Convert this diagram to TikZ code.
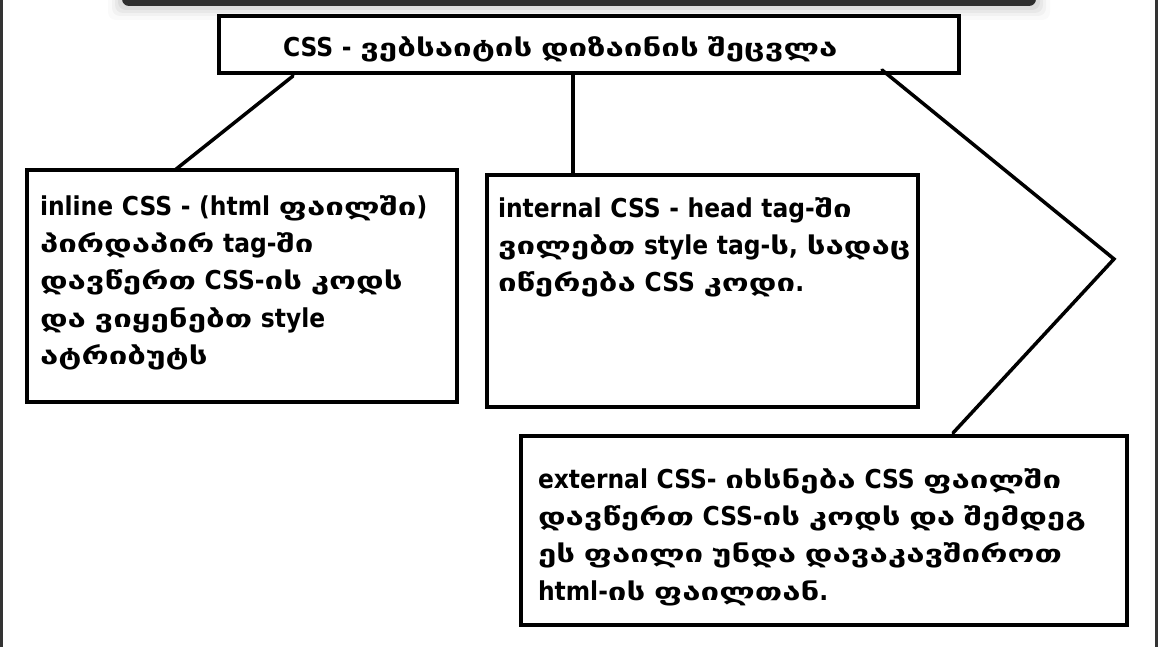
\documentclass[tikz,border=0pt]{standalone}
\usepackage{fontspec}
\newfontfamily\latfont{DejaVu Sans Bold}[FakeStretch=0.9]
\newfontfamily\geofont{DejaVu Sans Bold}[Scale=0.923, FakeStretch=1.38]
\XeTeXinterchartokenstate=1
\newXeTeXintercharclass\geoclass
\count255="10A0
\loop
  \XeTeXcharclass\count255=\geoclass
  \ifnum\count255<"10FF \advance\count255 by 1 \repeat
\XeTeXinterchartoks 0 \geoclass = {\geofont}
\XeTeXinterchartoks 4095 \geoclass = {\geofont}
\XeTeXinterchartoks \geoclass 0 = {\latfont}
\XeTeXinterchartoks 4095 0 = {\latfont}
\definecolor{bar}{HTML}{2D2D2D}
\definecolor{edge}{HTML}{333333}
\tikzset{
  box/.style={draw=black, line width=4pt, fill=white, rectangle, inner sep=0pt, outer sep=0pt},
  link/.style={draw=black, line width=3.5pt, line cap=round, line join=miter},
  txt/.style={anchor=base west, inner sep=0pt, outer sep=0pt, align=left, text width=640pt,
    font=\latfont\fontsize{26}{37.4}\selectfont},
}
\begin{document}
\begin{tikzpicture}[x=1pt,y=-1pt]
\useasboundingbox (0,0) rectangle (1158,647);
\fill[white] (0,0) rectangle (1158,647);
% shadow and top bar
\foreach \s/\o in {14/0.02,10/0.03,7/0.04,4/0.05}{
  \fill[black,opacity=\o,rounded corners=8pt] (122-\s,-20) rectangle (1036+\s,6+\s);
}
\fill[bar,rounded corners=7pt] (122,-20) rectangle (1036,6);
\fill[edge] (0,0) rectangle (2.5,647);
\fill[edge] (1155,0) rectangle (1158,647);
% boxes
\node[box, minimum width=740pt, minimum height=57pt] (t) at (589,44.5) {};
\node[box, minimum width=430pt, minimum height=232pt] (a) at (242,286) {};
\node[box, minimum width=431pt, minimum height=232pt] (b) at (702.5,291) {};
\node[box, minimum width=606pt, minimum height=189pt] (c) at (824,530.5) {};
% texts
\node[txt] (tt) at (283,57) {CSS - ვებსაიტის დიზაინის შეცვლა};
\node[txt] (at) at (40,215) {inline CSS - (html ფაილში)\\პირდაპირ tag-ში\\დავწერთ CSS-ის კოდს\\და ვიყენებთ style\\ატრიბუტს};
\node[txt] (bt) at (498,217) {internal CSS - head tag-ში\\ვილებთ style tag-ს, სადაც\\იწერება CSS კოდი.};
\node[txt] (ct) at (538,488) {external CSS- იხსნება CSS ფაილში\\დავწერთ CSS-ის კოდს და შემდეგ\\ეს ფაილი უნდა დავაკავშიროთ\\html-ის ფაილთან.};
% connectors
\coordinate (k) at (1114,259);
\draw[link] ([xshift=74pt,yshift=-3pt]t.south west) -- ([xshift=148pt]a.north west);
\draw[link] ([xshift=354pt]t.south west) -- ([xshift=86pt]b.north west);
\draw[link] ([xshift=663pt,yshift=3pt]t.south west) -- (k) -- ([xshift=432pt,yshift=3pt]c.north west);
\end{tikzpicture}
\end{document}
